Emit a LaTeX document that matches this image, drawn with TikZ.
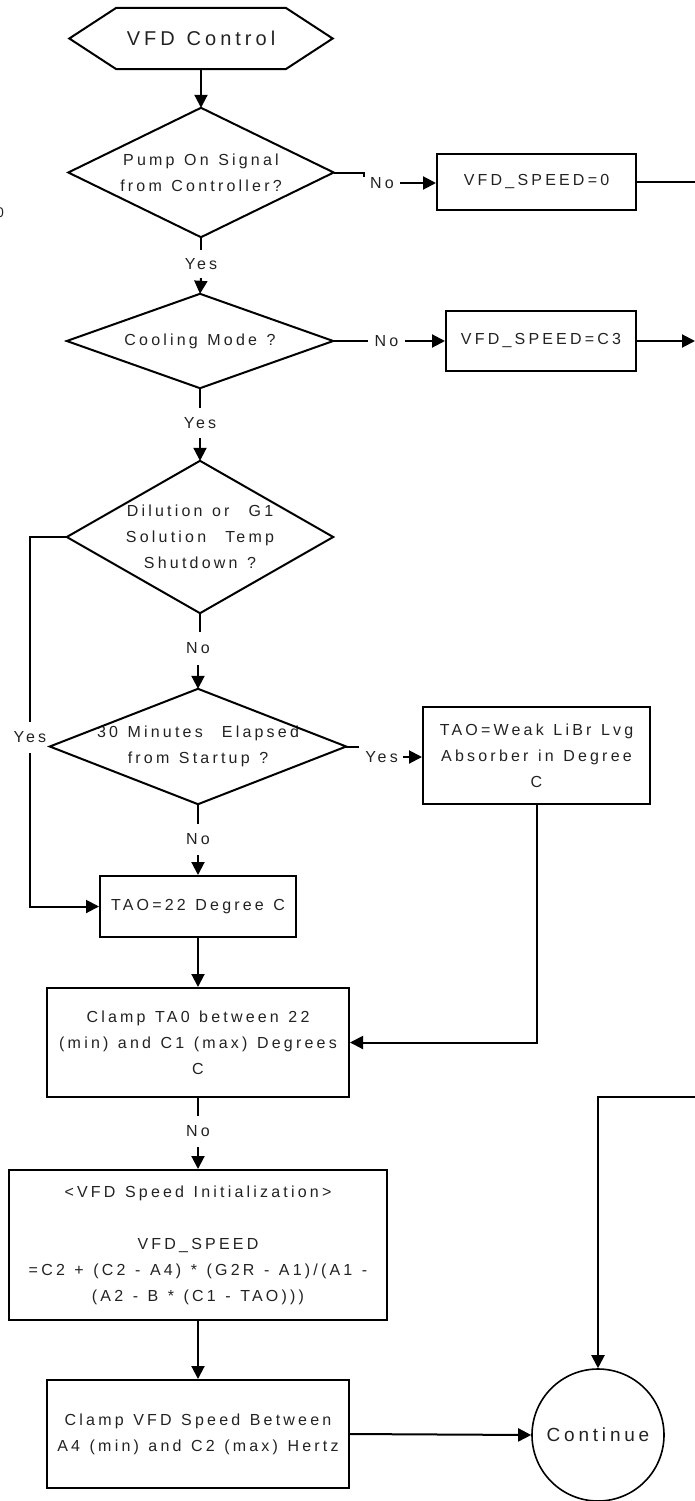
\documentclass[tikz,border=0pt]{standalone}
\usepackage{fontspec}
\setmainfont{Liberation Sans}[LetterSpace=20,WordSpace=1.25]
\usetikzlibrary{arrows.meta,calc}
\definecolor{txt}{HTML}{222222}
\begin{document}
\begin{tikzpicture}[x=1pt,y=-1pt,
  line/.style={line width=2pt},
  arr/.style={line width=2pt,-{Triangle[length=13pt,width=13pt]}},
  hold/.style={inner sep=0pt,align=center,text=txt,font=\fontsize{16}{26}\selectfont},
  box/.style={hold,draw,line width=2pt},
  lbl/.style={inner sep=0pt,text=txt,font=\fontsize{16}{26}\selectfont}]
\clip (0,0) rectangle (695,1501);
% nodes
\node[hold,minimum width=263pt,minimum height=61pt,font=\fontsize{20}{24}\selectfont] (start) at (201,38.5) {VFD Control};
\node[hold,minimum width=265pt,minimum height=129pt] (d1) at (201,172.5) {Pump On Signal\\from Controller?};
\node[box,minimum width=199pt,minimum height=56pt] (b0) at (536.5,182) {VFD\_SPEED=0};
\node[lbl,minimum height=28pt] (y1) at (201,264) {Yes};
\node[hold,minimum width=266pt,minimum height=94pt] (d2) at (200,341) {Cooling Mode ?};
\node[box,minimum width=190pt,minimum height=60pt] (bc3) at (541,341) {VFD\_SPEED=C3};
\node[lbl,minimum height=30pt] (y2) at (200,423) {Yes};
\node[hold,minimum width=266pt,minimum height=152pt] (d3) at (200,537) {Dilution or~ G1\\Solution~ Temp\\Shutdown ?};
\node[lbl,minimum height=33pt] (n3) at (198,648.5) {No};
\node[hold,minimum width=296pt,minimum height=115pt] (d4) at (198,746.5) {30 Minutes~ Elapsed\\from Startup ?};
\node[box,minimum width=227pt,minimum height=97pt] (bw) at (536.5,755.5) {TAO=Weak LiBr Lvg\\Absorber in Degree\\C};
\node[lbl,minimum height=31pt] (n4) at (198,839.5) {No};
\node[box,minimum width=196pt,minimum height=61pt] (b22) at (198,906.5) {TAO=22 Degree C};
\node[box,minimum width=302pt,minimum height=109pt] (ct) at (198,1042.5) {Clamp TA0 between 22\\(min) and C1 (max) Degrees\\C};
\node[lbl,minimum height=31pt] (n5) at (198,1131.5) {No};
\node[box,minimum width=378pt,minimum height=150pt] (init) at (198,1245) {<VFD Speed Initialization>\\[26pt]VFD\_SPEED\\=C2 + (C2 - A4) * (G2R - A1)/(A1 -\\(A2 - B * (C1 - TAO)))};
\node[box,minimum width=302pt,minimum height=108pt] (cv) at (198,1434) {Clamp VFD Speed Between\\A4 (min) and C2 (max) Hertz};
\node[draw,circle,line width=1.6pt,minimum size=132pt,inner sep=0pt,text=txt,font=\fontsize{19}{22}\selectfont] (cont) at (598,1435) {Continue};
% side labels
\node[lbl,minimum width=36pt] (n1) at (382,183) {No};
\node[lbl,minimum width=37pt] (n2) at (386.5,341) {No};
\node[lbl,minimum width=43pt] (y4) at (381.5,757) {Yes};
\node[lbl,minimum height=31pt] (yl) at (30,737.5) {Yes};
\node[lbl,anchor=east,font=\fontsize{14}{26}\selectfont\addfontfeatures{LetterSpace=0}] (frag) at (4,212.5) {0};
% outlines
\draw[line] (start.west) -- ([xshift=47pt]start.north west) -- ([xshift=-47pt]start.north east) -- (start.east) -- ([xshift=-47pt]start.south east) -- ([xshift=47pt]start.south west) -- cycle;
\foreach \d in {d1,d2,d3,d4}
  \draw[line] (\d.north) -- (\d.east) -- (\d.south) -- (\d.west) -- cycle;
% edge coordinates
\coordinate (e0) at (695,0);
\coordinate (e5) at (695,1097);
% connectors
\draw[arr] (start.south) -- (d1.north);
\draw[line] (d1.south) -- (y1.north);
\draw[arr] (y1.south) -- (d2.north);
\draw[line] (d1.east) -- ++(30,0) -- ++(0,4);
\draw[arr] (n1.east) -- (n1.east -| b0.west);
\draw[line] (b0.east) -- (b0.east -| e0);
\draw[line] (d2.east) -- (n2.west);
\draw[arr] (n2.east) -- (bc3.west);
\draw[arr] (bc3.east) -- (bc3.east -| e0);
\draw[line] (d2.south) -- (y2.north);
\draw[arr] (y2.south) -- (d3.north);
\draw[line] (d3.south) -- (d3.south |- n3.north);
\draw[arr] (n3.south) -- (d4.north);
\draw[line] (d3.west) -| (yl.north);
\draw[arr] (yl.south) |- (b22.west);
\draw[line] (d4.east) -- ++(13,0);
\draw[arr] (y4.east) -- (y4.east -| bw.west);
\draw[line] (d4.south) -- (n4.north);
\draw[arr] (n4.south) -- (b22.north);
\draw[arr] (b22.south) -- (ct.north);
\draw[arr] (bw.south) |- (ct.east);
\draw[line] (ct.south) -- (n5.north);
\draw[arr] (n5.south) -- (init.north);
\draw[arr] (init.south) -- (cv.north);
\draw[arr] (cv.east) -- (cont.west);
\draw[arr] (e5) -| (cont.north);
\end{tikzpicture}
\end{document}
